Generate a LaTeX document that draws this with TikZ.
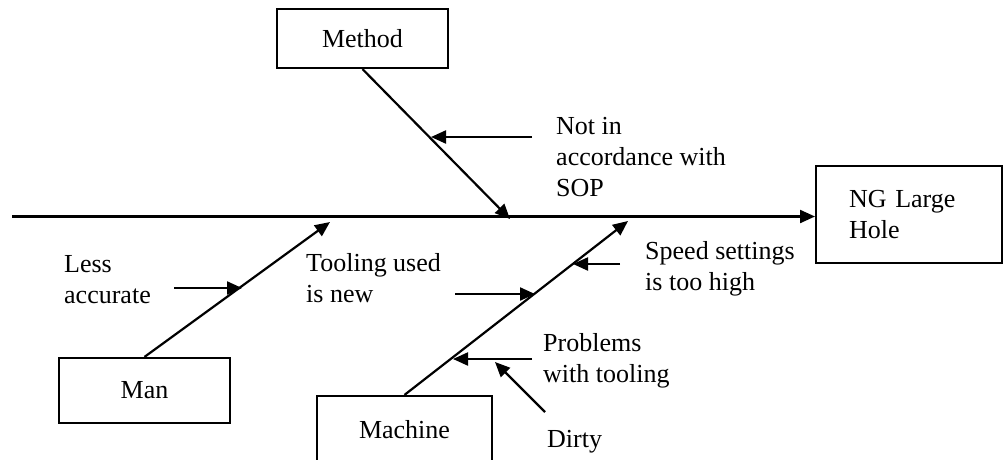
\documentclass[tikz,border=0pt]{standalone}
\usepackage{fontspec}
\setmainfont{Liberation Serif}
\usetikzlibrary{arrows.meta}
\begin{document}
\begin{tikzpicture}[x=1pt,y=-1pt,
  every node/.style={font=\fontsize{26}{31}\selectfont},
  box/.style={draw, line width=2.2pt, inner sep=0pt},
  bone/.style={line width=2.2pt, -{Triangle[length=15pt,width=13pt]}},
  lbl/.style={anchor=west, align=left, inner sep=0pt}]
\useasboundingbox (0,0) rectangle (1003,459);
\clip (0,0) rectangle (1003,459);

% boxes
\node[box, minimum width=171pt, minimum height=59pt] (method) at (362.5,38.5) {Method};
\node[box, minimum width=171pt, minimum height=65pt] (man) at (144.5,390.5) {Man};
\node[box, minimum width=175pt, text height=42pt, text depth=42pt] (machine) at (404.5,438) {Machine};
\node[box, anchor=west, minimum height=97pt, inner xsep=33pt, text width=120pt, align=left] (ng) at (815,214.5) {NG Large\\Hole};

% spine and bones
\coordinate (spstart) at (12,216.5);
\coordinate (mtip) at (510,219);
\coordinate (mantip) at (330,222);
\coordinate (mctip) at (628,221);
\draw[bone] (spstart) -- (spstart -| ng.west);
\draw[bone] (method.south) -- (mtip);
\draw[bone] (man.north) -- (mantip);
\draw[bone] (machine.north) -- (mctip);

% cause arrows
\coordinate (t1) at (532,137); \coordinate (h1) at (431,137);
\coordinate (t2) at (174,288); \coordinate (h2) at (242,288);
\coordinate (t3) at (455,294); \coordinate (h3) at (535,294);
\coordinate (t4) at (620,264); \coordinate (h4) at (573,264);
\coordinate (t5) at (532,359); \coordinate (h5) at (453,359);
\coordinate (t6) at (545,412); \coordinate (h6) at (495,362);
\draw[bone] (t1) -- (h1);
\draw[bone] (t2) -- (h2);
\draw[bone] (t3) -- (h3);
\draw[bone] (t4) -- (h4);
\draw[bone] (t5) -- (h5);
\draw[bone] (t6) -- (h6);

% labels
\node[lbl] (l1) at (556,157) {Not in\\accordance with\\SOP};
\node[lbl] (l2) at (64,280) {Less\\accurate};
\node[lbl] (l3) at (306,278) {Tooling used\\is new};
\node[lbl] (l4) at (645,269) {Speed settings\\is too high};
\node[lbl] (l5) at (543,361) {Problems\\with tooling};
\node[lbl] (l6) at (547,442) {Dirty};
\end{tikzpicture}
\end{document}
